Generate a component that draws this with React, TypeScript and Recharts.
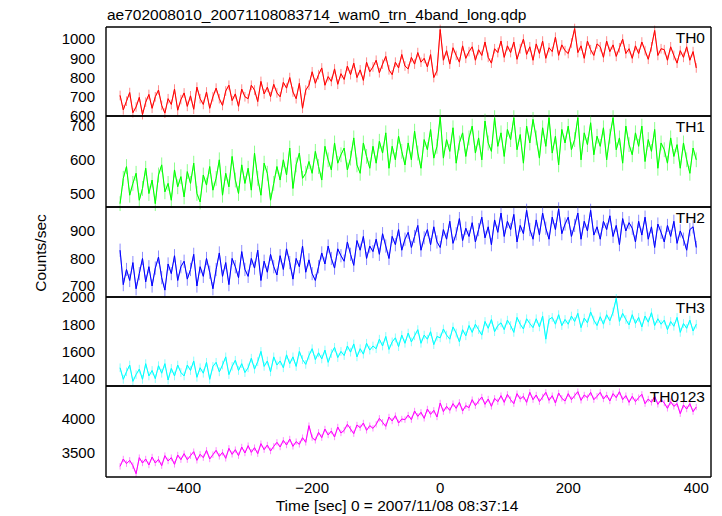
import React from 'react';
import { LineChart, Line, XAxis, YAxis, ErrorBar } from 'recharts';

// time bins (sec from 2007/11/08 08:37:14), 5 s apart from -500 to 400
const TIME_START = -500;
const TIME_STEP = 5;

const th0 = [
  707, 632, 677, 722, 617, 647, 697, 607, 672, 712,
  640, 700, 735, 655, 615, 690, 660, 740, 630, 685,
  720, 650, 705, 635, 750, 690, 660, 725, 640, 700,
  745, 690, 655, 730, 760, 680, 715, 650, 740, 700,
  690, 760, 735, 675, 780, 715, 750, 700, 765, 720,
  700, 775, 745, 800, 725, 690, 770, 640, 735, 760,
  830, 770, 815, 850, 760, 805, 780, 845, 765, 820,
  790, 860, 815, 875, 800, 840, 785, 880, 830, 855,
  890, 825, 870, 910, 840, 815, 880, 850, 920, 860,
  845, 905, 870, 930, 880, 900, 855, 920, 800, 835,
  1050, 890, 940, 870, 955, 915, 880, 965, 900, 935,
  960, 890, 945, 915, 985, 905, 875, 950, 930, 990,
  905, 965, 930, 985, 895, 950, 1000, 920, 960, 890,
  975, 925, 990, 900, 955, 935, 1010, 915, 970, 940,
  925, 980, 1055, 930, 965, 900, 990, 945, 915, 975,
  960, 905, 990, 935, 970, 910, 955, 1000, 925, 950,
  900, 965, 925, 985, 940, 895, 960, 1045, 915, 950,
  945, 890, 960, 915, 875, 940, 905, 960, 890, 935,
  850,
];

const th1 = [
  470, 545, 580, 495, 530, 560, 480, 515, 575, 500,
  540, 470, 555, 585, 505, 530, 480, 570, 520, 550,
  490, 565, 530, 590, 500, 475, 555, 525, 580, 510,
  545, 600, 495, 560, 520, 610, 540, 500, 585, 530,
  575, 510, 620, 545, 495, 590, 560, 480, 530, 580,
  540, 600, 555, 635, 515, 585, 620, 545, 560, 595,
  560, 625, 580, 540, 640, 600, 570, 650, 590, 615,
  635, 570, 605, 665, 585, 560, 650, 610, 575, 640,
  590, 655, 620, 680, 575, 640, 600, 670, 625, 585,
  650, 600, 685, 620, 575, 660, 630, 690, 605, 640,
  728, 605, 660, 625, 695, 590, 650, 680, 610, 665,
  700, 620, 665, 600, 715, 650, 625, 725, 640, 680,
  610, 690, 660, 725, 630, 675, 590, 700, 650, 720,
  665, 605, 695, 640, 725, 620, 670, 585, 690, 650,
  700, 630, 660, 725, 600, 680, 645, 710, 615, 670,
  640, 695, 600, 670, 725, 630, 665, 590, 700, 645,
  615, 680, 640, 700, 595, 660, 625, 690, 575, 650,
  630, 590, 665, 610, 645, 575, 650, 600, 560, 635,
  600,
];

const th2 = [
  830, 705, 760, 720, 785, 690, 745, 800, 715, 770,
  700, 765, 805, 730, 685, 780, 745, 810, 720, 770,
  790, 725, 760, 815, 700, 770, 735, 800, 750, 690,
  760, 820, 735, 785, 705, 800, 770, 730, 825, 760,
  735, 800, 765, 830, 720, 790, 750, 815, 770, 740,
  810, 760, 835, 785, 725, 800, 770, 845, 750, 795,
  745, 720, 770, 820, 780, 845, 800, 765, 835, 810,
  790, 860, 815, 775, 865, 830, 880, 800, 845, 825,
  870, 815, 890, 845, 800, 880, 850, 905, 830, 870,
  895, 840, 880, 920, 830, 875, 905, 850, 915, 860,
  840, 905, 870, 935, 855, 890, 945, 865, 910, 880,
  930, 860, 905, 950, 875, 915, 850, 940, 895, 965,
  880, 935, 905, 960, 860, 920, 890, 975, 905, 870,
  940, 885, 965, 910, 870, 950, 905, 980, 890, 925,
  950, 880, 920, 965, 870, 935, 900, 975, 885, 915,
  870, 935, 905, 955, 880, 920, 850, 945, 900, 930,
  910, 860, 935, 885, 950, 870, 915, 840, 925, 895,
  860, 920, 880, 935, 855, 900, 870, 830, 905, 915,
  840,
];

const th3 = [
  1480, 1395, 1450, 1500, 1380, 1430, 1470, 1395, 1510, 1420,
  1460, 1400, 1495, 1440, 1510, 1390, 1475, 1420, 1500, 1445,
  1420, 1500, 1460, 1530, 1410, 1480, 1440, 1520, 1395, 1490,
  1520, 1450, 1500, 1560, 1430, 1490, 1535, 1460, 1510, 1445,
  1480, 1550, 1470, 1525, 1600, 1490, 1530, 1450, 1560, 1500,
  1530, 1480, 1575, 1510, 1560, 1490, 1600, 1540, 1505, 1570,
  1620, 1540, 1590, 1545, 1610, 1520, 1585, 1630, 1555, 1600,
  1570, 1640, 1595, 1655, 1560, 1620, 1580, 1660, 1610, 1640,
  1620, 1690, 1640, 1710, 1615, 1670, 1700, 1635, 1720, 1660,
  1735, 1670, 1715, 1760, 1660, 1720, 1690, 1745, 1650, 1710,
  1700, 1765, 1720, 1690, 1780, 1735, 1670, 1760, 1715, 1790,
  1740, 1800, 1760, 1720, 1820, 1770, 1835, 1745, 1790, 1810,
  1760, 1830, 1790, 1740, 1850, 1800, 1765, 1840, 1805, 1775,
  1840, 1780, 1860, 1690, 1835, 1850, 1800, 1870, 1790, 1835,
  1800, 1860, 1820, 1880, 1775, 1845, 1810, 1890, 1830, 1790,
  1855, 1800, 1870, 1825, 1890, 1990, 1820, 1880, 1835, 1795,
  1870, 1805, 1850, 1780, 1860, 1815, 1885, 1790, 1840, 1800,
  1830, 1760, 1820, 1785, 1850, 1740, 1805, 1770, 1830, 1750,
  1800,
];

const th0123 = [
  3290, 3400, 3330, 3380, 3300, 3180, 3420, 3340, 3400, 3310,
  3430, 3340, 3395, 3300, 3450, 3370, 3420, 3320, 3460, 3390,
  3480, 3390, 3450, 3510, 3380, 3470, 3420, 3530, 3400, 3465,
  3530, 3440, 3500, 3410, 3560, 3470, 3540, 3450, 3580, 3490,
  3600, 3500, 3570, 3480, 3630, 3540, 3610, 3520, 3590, 3650,
  3580, 3680, 3610, 3700, 3590, 3660, 3620, 3720, 3650, 3900,
  3720, 3680, 3800, 3720, 3850, 3760, 3820, 3730, 3880, 3790,
  3830, 3920, 3850, 3780, 3910, 3870, 3940, 3830, 3900, 3860,
  3920, 4010, 3950, 3890, 4030, 3970, 4050, 3940, 4000, 3990,
  4060, 3990, 4120, 4040, 4100, 4010, 4150, 4070, 4130, 4030,
  4240, 4110, 4190, 4130, 4230, 4160, 4250, 4120, 4200, 4170,
  4290, 4200, 4270, 4330, 4220, 4300, 4190, 4310, 4260, 4350,
  4250, 4370, 4290, 4230, 4380, 4300, 4340, 4250, 4400, 4290,
  4360, 4260, 4330, 4400, 4280, 4350, 4240, 4390, 4310, 4270,
  4380, 4290, 4350, 4410, 4280, 4360, 4320, 4400, 4290, 4340,
  4400, 4300, 4360, 4270, 4380, 4320, 4410, 4290, 4350, 4250,
  4340, 4260, 4320, 4370, 4230, 4300, 4250, 4340, 4220, 4290,
  4240, 4160, 4260, 4190, 4230, 4080, 4210, 4150, 4230, 4110,
  4180,
];

// typical 1-sigma error bar of each band (counts/sec)
const th0Err = 25;
const th1Err = 22;
const th2Err = 24;
const th3Err = 32;
const th0123Err = 48;

const xTicks = [-500, -400, -300, -200, -100, 0, 100, 200, 300, 400];
const xLabelTicks = [-400, -200, 0, 200, 400];

const TITLE = 'ae702008010_20071108083714_wam0_trn_4band_long.qdp';
const X_LABEL = 'Time [sec] 0 = 2007/11/08 08:37:14';
const Y_LABEL = 'Counts/sec';

const FONT = '"Liberation Sans", Arial, Helvetica, sans-serif';
const X_DOMAIN: [number, number] = [-522, 423];

const panels = [
  { name: 'TH0', values: th0, err: th0Err, color: '#ff0000', errColor: '#ff8c8c', domain: [600, 1063], labels: [600, 700, 800, 900, 1000], major: [600, 700, 800, 900, 1000], minor: [650, 750, 850, 950, 1050], top: 27, bottom: 116 },
  { name: 'TH1', values: th1, err: th1Err, color: '#00ff00', errColor: '#8cff8c', domain: [460, 730], labels: [500, 600, 700], major: [500, 600, 700], minor: [480, 520, 540, 560, 580, 620, 640, 660, 680, 720], top: 116, bottom: 207 },
  { name: 'TH2', values: th2, err: th2Err, color: '#0000ff', errColor: '#8c8cff', domain: [660, 987], labels: [700, 800, 900], major: [700, 800, 900], minor: [680, 720, 740, 760, 780, 820, 840, 860, 880, 920, 940, 960, 980], top: 207, bottom: 297 },
  { name: 'TH3', values: th3, err: th3Err, color: '#00ffff', errColor: '#8cffff', domain: [1346, 2000], labels: [1400, 1600, 1800, 2000], major: [1400, 1600, 1800, 2000], minor: [1500, 1700, 1900], top: 297, bottom: 386 },
  { name: 'TH0123', values: th0123, err: th0123Err, color: '#ff00ff', errColor: '#ff8cff', domain: [3130, 4495], labels: [3500, 4000], major: [3500, 4000], minor: [3200, 3300, 3400, 3600, 3700, 3800, 3900, 4100, 4200, 4300, 4400], top: 386, bottom: 477 },
];

const axisLineStyle = { stroke: '#000', strokeWidth: 1.4 };
const tickLineStyle = { stroke: '#000', strokeWidth: 1 };
const fmt = (v: number) => String(v).replace('-', '\u2212');
const THIN = 0.01;

function Panel({ p, last }: { p: (typeof panels)[number]; last: boolean }) {
  const rows = p.values.map((v, i) => ({ t: TIME_START + i * TIME_STEP, v, e: p.err }));
  const h = p.bottom - p.top;
  const mt = 10;
  const mb = 10;
  const extra = last ? 30 : 0;
  return (
    <div style={{ position: 'absolute', left: 0, top: p.top - mt }}>
      <LineChart width={722} height={h + mt + mb + extra} data={rows} margin={{ top: mt, right: 11, bottom: mb, left: 46 }}>
        <XAxis xAxisId="b" dataKey="t" type="number" domain={X_DOMAIN} allowDataOverflow orientation="bottom" mirror height={THIN}
          ticks={xTicks} interval={0} tick={false} tickSize={5} axisLine={axisLineStyle} tickLine={tickLineStyle} />
        <XAxis xAxisId="tp" dataKey="t" type="number" domain={X_DOMAIN} allowDataOverflow orientation="top" mirror height={THIN}
          ticks={xTicks} interval={0} tick={false} tickSize={5} axisLine={axisLineStyle} tickLine={tickLineStyle} />
        {last && (
          <XAxis xAxisId="lbl" dataKey="t" type="number" domain={X_DOMAIN} allowDataOverflow orientation="bottom" height={30}
            ticks={xLabelTicks} interval={0} tickLine={false} axisLine={false} tickSize={3} tickMargin={2.5}
            tick={{ fill: '#000', fontSize: 15, fontFamily: FONT }} tickFormatter={fmt} />
        )}
        <YAxis yAxisId="lbl" type="number" domain={p.domain} allowDataOverflow orientation="left" width={60}
          ticks={p.labels} interval={0} tickLine={false} axisLine={false} tickSize={6} tickMargin={5}
          tick={{ fill: '#000', fontSize: 15, fontFamily: FONT }} />
        <YAxis yAxisId="lmaj" type="number" domain={p.domain} allowDataOverflow orientation="left" mirror width={THIN}
          ticks={p.major} interval={0} tick={false} tickSize={7} axisLine={axisLineStyle} tickLine={tickLineStyle} />
        <YAxis yAxisId="lmin" type="number" domain={p.domain} allowDataOverflow orientation="left" mirror width={THIN}
          ticks={p.minor} interval={0} tick={false} tickSize={3.5} axisLine={false} tickLine={tickLineStyle} />
        <YAxis yAxisId="rmaj" type="number" domain={p.domain} allowDataOverflow orientation="right" mirror width={THIN}
          ticks={p.major} interval={0} tick={false} tickSize={7} axisLine={axisLineStyle} tickLine={tickLineStyle} />
        <YAxis yAxisId="rmin" type="number" domain={p.domain} allowDataOverflow orientation="right" mirror width={THIN}
          ticks={p.minor} interval={0} tick={false} tickSize={3.5} axisLine={false} tickLine={tickLineStyle} />
        <Line xAxisId="b" yAxisId="lmaj" type="linear" dataKey="v" stroke={p.errColor} strokeWidth={1}
          dot={false} activeDot={false} isAnimationActive={false}>
          <ErrorBar dataKey="e" direction="y" width={0} stroke={p.errColor} strokeWidth={1} />
        </Line>
        <Line xAxisId="b" yAxisId="lmaj" type="linear" dataKey="v" stroke={p.color} strokeWidth={1}
          dot={false} activeDot={false} isAnimationActive={false} />
      </LineChart>
    </div>
  );
}

export default function App() {
  return (
    <div style={{ position: 'absolute', left: 0, top: 0, width: 722, height: 516, background: '#fff', overflow: 'hidden' }}>
      {panels.map((p, i) => (
        <Panel key={p.name} p={p} last={i === panels.length - 1} />
      ))}
      <svg width={722} height={516} style={{ position: 'absolute', left: 0, top: 0, pointerEvents: 'none' }}>
        <text x={107} y={20} fontSize={15.5} fontFamily={FONT} fill="#000">{TITLE}</text>
        <text x={397} y={511} fontSize={15.5} fontFamily={FONT} fill="#000" textAnchor="middle">{X_LABEL}</text>
        <text x={45.5} y={253} fontSize={15.5} fontFamily={FONT} fill="#000" textAnchor="middle" transform="rotate(-90 45.5 253)">{Y_LABEL}</text>
        {panels.map((p) => (
          <text key={p.name} x={705} y={p.top + 16} fontSize={15.5} fontFamily={FONT} fill="#000" textAnchor="end">{p.name}</text>
        ))}
      </svg>
    </div>
  );
}
